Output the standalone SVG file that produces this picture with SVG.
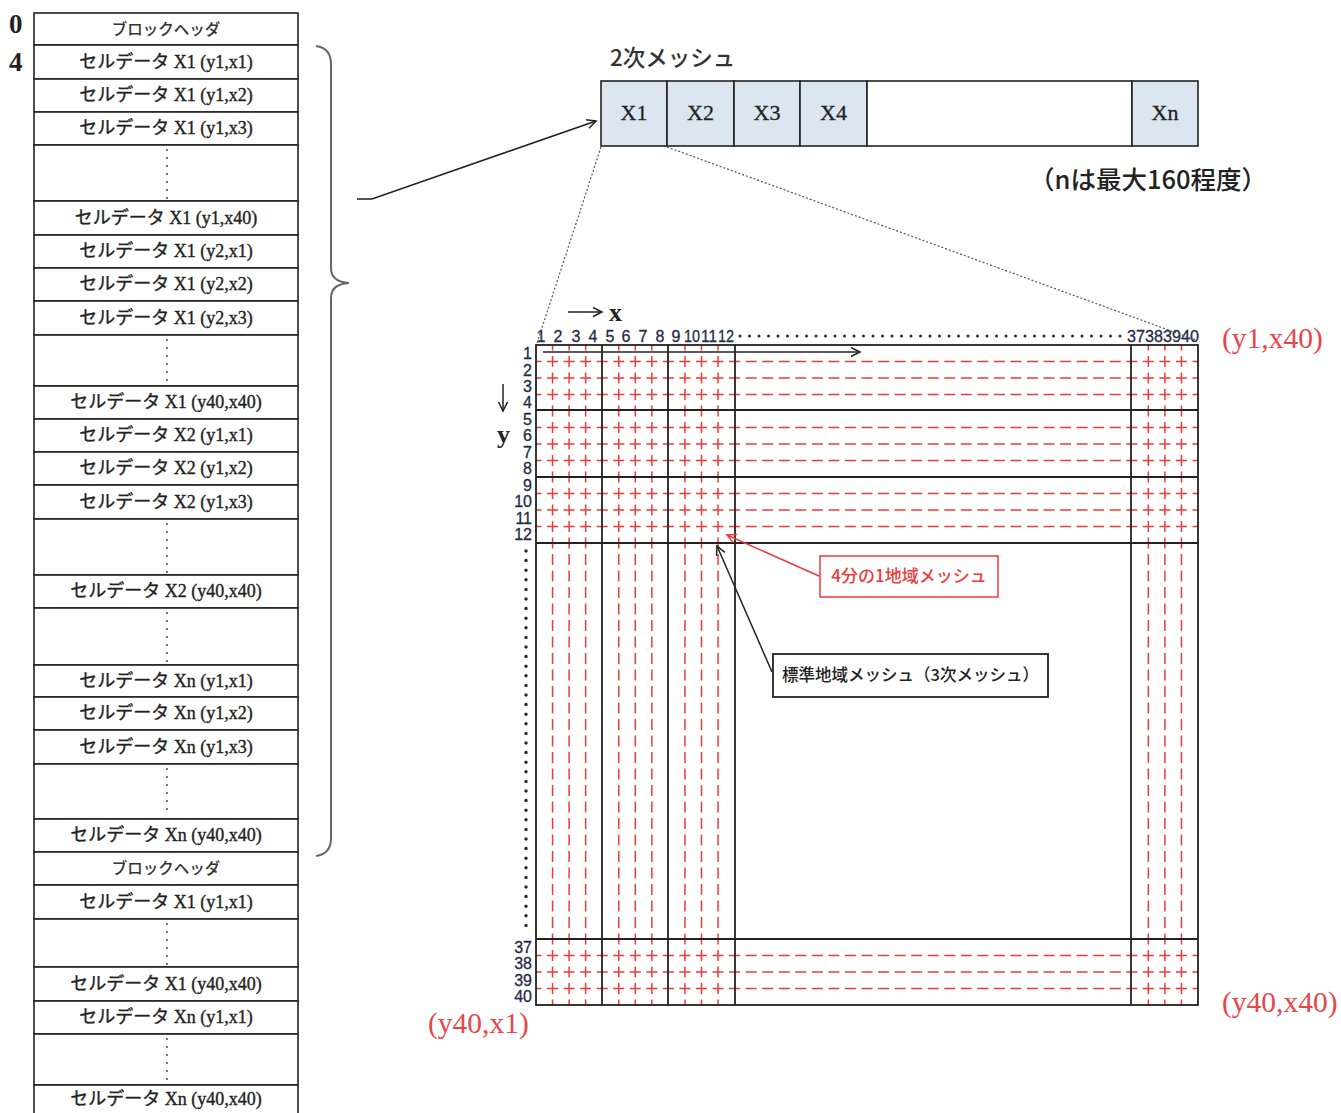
<svg xmlns="http://www.w3.org/2000/svg" width="1341" height="1113" viewBox="0 0 1341 1113">
<style>
.cell{fill:#fff;stroke:#222;stroke-width:1.6}
.ct{font-family:"Liberation Serif","Noto Sans CJK JP",serif;font-size:18px;fill:#222;stroke:#222;stroke-width:0.35;text-anchor:middle}
.hd{font-family:"Noto Sans CJK JP",sans-serif;font-size:15.5px;font-weight:500;fill:#333;text-anchor:middle}
.vdots{stroke:#333;stroke-width:1.8;stroke-dasharray:0 8;stroke-linecap:round}
.mesh{fill:#dce6f1;stroke:#222;stroke-width:1.6}
.mt{font-family:"Liberation Serif",serif;font-size:22px;fill:#222;stroke:#222;stroke-width:0.3;text-anchor:middle}
.blk{stroke:#222;stroke-width:1.8;fill:none}
.rh{stroke:#f03a3a;stroke-width:1.5;stroke-dasharray:11 5.55;stroke-dashoffset:5.5;fill:none}
.rv{stroke:#f03a3a;stroke-width:1.5;stroke-dasharray:11 5.5;stroke-dashoffset:5.5;fill:none}
.num{font-family:"Liberation Sans",sans-serif;font-size:16px;fill:#1f2b47;stroke:#1f2b47;stroke-width:0.3}
.red{font-family:"Liberation Serif",serif;font-size:29.5px;fill:#e8474a}
.jp{font-family:"Noto Sans CJK JP",sans-serif}
</style>
<defs>
<marker id="ab" markerWidth="12" markerHeight="12" refX="10" refY="5" orient="auto" markerUnits="userSpaceOnUse"><path d="M1,0.5 L10,5 L1,9.5" fill="none" stroke="#222" stroke-width="1.5"/></marker>
<marker id="ar" markerWidth="12" markerHeight="12" refX="10" refY="5" orient="auto" markerUnits="userSpaceOnUse"><path d="M1,0.5 L10,5 L1,9.5" fill="none" stroke="#f03a3a" stroke-width="1.5"/></marker>
</defs>
<rect width="1341" height="1113" fill="#fff"/>

<!-- left offsets -->
<text x="9" y="33" font-family="Liberation Serif,serif" font-size="27" font-weight="bold" fill="#222">0</text>
<text x="9" y="71" font-family="Liberation Serif,serif" font-size="27" font-weight="bold" fill="#222">4</text>

<!-- left column -->
<g id="block-list">
<g id="r1"><rect class="cell" x="34" y="13" width="264" height="32"/><text class="hd" x="166" y="35">ブロックヘッダ</text></g>
<g id="r2"><rect class="cell" x="34" y="45" width="264" height="34"/><text class="ct" x="166" y="68">セルデータ X1 (y1,x1)</text></g>
<g id="r3"><rect class="cell" x="34" y="79" width="264" height="33"/><text class="ct" x="166" y="101">セルデータ X1 (y1,x2)</text></g>
<g id="r4"><rect class="cell" x="34" y="112" width="264" height="33"/><text class="ct" x="166" y="134">セルデータ X1 (y1,x3)</text></g>
<g id="r5"><rect class="cell" x="34" y="145" width="264" height="56"/><line class="vdots" x1="167" y1="150" x2="167" y2="199"/></g>
<g id="r6"><rect class="cell" x="34" y="201" width="264" height="34"/><text class="ct" x="166" y="224">セルデータ X1 (y1,x40)</text></g>
<g id="r7"><rect class="cell" x="34" y="235" width="264" height="33"/><text class="ct" x="166" y="257">セルデータ X1 (y2,x1)</text></g>
<g id="r8"><rect class="cell" x="34" y="268" width="264" height="33"/><text class="ct" x="166" y="290">セルデータ X1 (y2,x2)</text></g>
<g id="r9"><rect class="cell" x="34" y="301" width="264" height="34"/><text class="ct" x="166" y="324">セルデータ X1 (y2,x3)</text></g>
<g id="r10"><rect class="cell" x="34" y="335" width="264" height="51"/><line class="vdots" x1="167" y1="340" x2="167" y2="384"/></g>
<g id="r11"><rect class="cell" x="34" y="386" width="264" height="33"/><text class="ct" x="166" y="408">セルデータ X1 (y40,x40)</text></g>
<g id="r12"><rect class="cell" x="34" y="419" width="264" height="33"/><text class="ct" x="166" y="441">セルデータ X2 (y1,x1)</text></g>
<g id="r13"><rect class="cell" x="34" y="452" width="264" height="33"/><text class="ct" x="166" y="474">セルデータ X2 (y1,x2)</text></g>
<g id="r14"><rect class="cell" x="34" y="485" width="264" height="34"/><text class="ct" x="166" y="508">セルデータ X2 (y1,x3)</text></g>
<g id="r15"><rect class="cell" x="34" y="519" width="264" height="56"/><line class="vdots" x1="167" y1="524" x2="167" y2="573"/></g>
<g id="r16"><rect class="cell" x="34" y="575" width="264" height="33"/><text class="ct" x="166" y="597">セルデータ X2 (y40,x40)</text></g>
<g id="r17"><rect class="cell" x="34" y="608" width="264" height="57"/><line class="vdots" x1="167" y1="613" x2="167" y2="663"/></g>
<g id="r18"><rect class="cell" x="34" y="665" width="264" height="32"/><text class="ct" x="166" y="687">セルデータ Xn (y1,x1)</text></g>
<g id="r19"><rect class="cell" x="34" y="697" width="264" height="33"/><text class="ct" x="166" y="719">セルデータ Xn (y1,x2)</text></g>
<g id="r20"><rect class="cell" x="34" y="730" width="264" height="34"/><text class="ct" x="166" y="753">セルデータ Xn (y1,x3)</text></g>
<g id="r21"><rect class="cell" x="34" y="764" width="264" height="55"/><line class="vdots" x1="167" y1="769" x2="167" y2="817"/></g>
<g id="r22"><rect class="cell" x="34" y="819" width="264" height="33"/><text class="ct" x="166" y="841">セルデータ Xn (y40,x40)</text></g>
<g id="r23"><rect class="cell" x="34" y="852" width="264" height="33"/><text class="hd" x="166" y="874">ブロックヘッダ</text></g>
<g id="r24"><rect class="cell" x="34" y="885" width="264" height="34"/><text class="ct" x="166" y="908">セルデータ X1 (y1,x1)</text></g>
<g id="r25"><rect class="cell" x="34" y="919" width="264" height="48"/><line class="vdots" x1="167" y1="924" x2="167" y2="965"/></g>
<g id="r26"><rect class="cell" x="34" y="967" width="264" height="34"/><text class="ct" x="166" y="990">セルデータ X1 (y40,x40)</text></g>
<g id="r27"><rect class="cell" x="34" y="1001" width="264" height="33"/><text class="ct" x="166" y="1023">セルデータ Xn (y1,x1)</text></g>
<g id="r28"><rect class="cell" x="34" y="1034" width="264" height="51"/><line class="vdots" x1="167" y1="1039" x2="167" y2="1083"/></g>
<g id="r29"><rect class="cell" x="34" y="1085" width="264" height="40"/><text class="ct" x="166" y="1105">セルデータ Xn (y40,x40)</text></g>
</g>

<!-- brace -->
<path id="brace" d="M316,46 Q331,48 331,64 L331,268 Q331,282 349,283 Q331,284 331,298 L331,838 Q331,854 316,856" fill="none" stroke="#666" stroke-width="2"/>

<!-- 2nd mesh -->
<text x="610" y="66" class="jp" font-size="22.5" font-weight="500" fill="#333">2次メッシュ</text>
<g id="mesh2">
<g id="m1"><rect class="mesh" x="601" y="81" width="66" height="65"/><text class="mt" x="634" y="120">X1</text></g>
<g id="m2"><rect class="mesh" x="667" y="81" width="67" height="65"/><text class="mt" x="700.5" y="120">X2</text></g>
<g id="m3"><rect class="mesh" x="734" y="81" width="66" height="65"/><text class="mt" x="767" y="120">X3</text></g>
<g id="m4"><rect class="mesh" x="800" y="81" width="67" height="65"/><text class="mt" x="833.5" y="120">X4</text></g>
<g id="m5"><rect x="867" y="81" width="265" height="65" fill="#fff" stroke="#222" stroke-width="1.6"/></g>
<g id="mn"><rect class="mesh" x="1132" y="81" width="66" height="65"/><text class="mt" x="1165" y="120">Xn</text></g>
</g>
<text x="1029" y="189" class="jp" font-size="25.5" font-weight="500" fill="#222">（nは最大160程度）</text>

<!-- grid red dashed -->
<g id="red-grid">
<path class="rv" d="M552.55,345V1005M569.1,345V1005M585.65,345V1005M618.75,345V1005M635.3,345V1005M651.85,345V1005M684.95,345V1005M701.5,345V1005M718.05,345V1005M1148.35,345V1005M1164.9,345V1005M1181.45,345V1005"/>
<path class="rh" d="M536,361.5H1198M536,378H1198M536,394.5H1198M536,427.5H1198M536,444H1198M536,460.5H1198M536,493.5H1198M536,510H1198M536,526.5H1198M536,955.5H1198M536,972H1198M536,988.5H1198"/>
</g>
<!-- grid black -->
<g id="grid">
<rect class="blk" x="536" y="345" width="662" height="660"/>
<path class="blk" d="M602,345V1005M668,345V1005M735,345V1005M1131,345V1005M536,410H1198M536,477H1198M536,543H1198M536,939H1198"/>
</g>

<!-- column labels -->
<g id="col-labels" class="num">
<text x="541" y="342" text-anchor="middle">1</text>
<text x="558" y="342" text-anchor="middle">2</text>
<text x="576" y="342" text-anchor="middle">3</text>
<text x="593" y="342" text-anchor="middle">4</text>
<text x="610" y="342" text-anchor="middle">5</text>
<text x="626" y="342" text-anchor="middle">6</text>
<text x="643" y="342" text-anchor="middle">7</text>
<text x="660" y="342" text-anchor="middle">8</text>
<text x="676" y="342" text-anchor="middle">9</text>
<text x="684" y="342" textLength="16" lengthAdjust="spacingAndGlyphs">10</text>
<text x="701" y="342" textLength="16" lengthAdjust="spacingAndGlyphs">11</text>
<text x="718" y="342" textLength="16" lengthAdjust="spacingAndGlyphs">12</text>
<text x="1127" y="342" textLength="72" lengthAdjust="spacingAndGlyphs">37383940</text>
</g>
<line x1="740" y1="336" x2="1126" y2="336" stroke="#1f2b47" stroke-width="3" stroke-dasharray="0 9.5" stroke-linecap="round"/>

<!-- row labels -->
<g id="row-labels" class="num" text-anchor="end">
<text x="532" y="359">1</text>
<text x="532" y="376">2</text>
<text x="532" y="392">3</text>
<text x="532" y="408">4</text>
<text x="532" y="425">5</text>
<text x="532" y="441">6</text>
<text x="532" y="458">7</text>
<text x="532" y="474">8</text>
<text x="532" y="491">9</text>
<text x="532" y="507">10</text>
<text x="532" y="524">11</text>
<text x="532" y="540">12</text>
<text x="532" y="953">37</text>
<text x="532" y="969">38</text>
<text x="532" y="986">39</text>
<text x="532" y="1002">40</text>
</g>
<line x1="526" y1="551" x2="526" y2="934" stroke="#1f2b47" stroke-width="3.5" stroke-dasharray="0 9.6" stroke-linecap="round"/>

<!-- axis arrows -->
<line x1="568" y1="312" x2="602" y2="312" stroke="#222" stroke-width="1.5" marker-end="url(#ab)"/>
<text x="609" y="321" font-family="Liberation Serif,serif" font-size="26" font-weight="bold" fill="#222">x</text>
<line x1="503" y1="384" x2="503" y2="411" stroke="#222" stroke-width="1.5" marker-end="url(#ab)"/>
<text x="497" y="443" font-family="Liberation Serif,serif" font-size="26" font-weight="bold" fill="#222">y</text>

<!-- red corner labels -->
<text class="red" x="1222" y="348">(y1,x40)</text>
<text class="red" x="1222" y="1012">(y40,x40)</text>
<text class="red" x="428" y="1033">(y40,x1)</text>

<!-- callout boxes -->
<g id="quarter-mesh">
<rect x="820" y="556" width="178" height="41" fill="#fff" stroke="#f03a3a" stroke-width="1.5"/>
<text x="909" y="582" class="jp" font-size="17" font-weight="500" fill="#f03a3a" text-anchor="middle">4分の1地域メッシュ</text>
</g>
<g id="std-mesh">
<rect x="773" y="654" width="275" height="43" fill="#fff" stroke="#222" stroke-width="1.8"/>
<text x="910.5" y="681" class="jp" font-size="16.5" font-weight="500" fill="#222" text-anchor="middle">標準地域メッシュ（3次メッシュ）</text>
</g>

<!-- connectors -->
<g id="connectors">
<path d="M357,199 L372,199 L596,121" fill="none" stroke="#222" stroke-width="1.6" marker-end="url(#ab)"/>
<line x1="601" y1="147" x2="537" y2="343" stroke="#555" stroke-width="1.2" stroke-dasharray="2 2"/>
<line x1="667" y1="147" x2="1196" y2="340" stroke="#555" stroke-width="1.2" stroke-dasharray="2 2"/>
<line x1="543" y1="352" x2="860" y2="352" stroke="#222" stroke-width="1.6" marker-end="url(#ab)"/>
<line x1="819" y1="576" x2="727" y2="535" stroke="#f03a3a" stroke-width="1.5" marker-end="url(#ar)"/>
<line x1="772" y1="672" x2="717" y2="546" stroke="#222" stroke-width="1.5" marker-end="url(#ab)"/>
</g>
</svg>
